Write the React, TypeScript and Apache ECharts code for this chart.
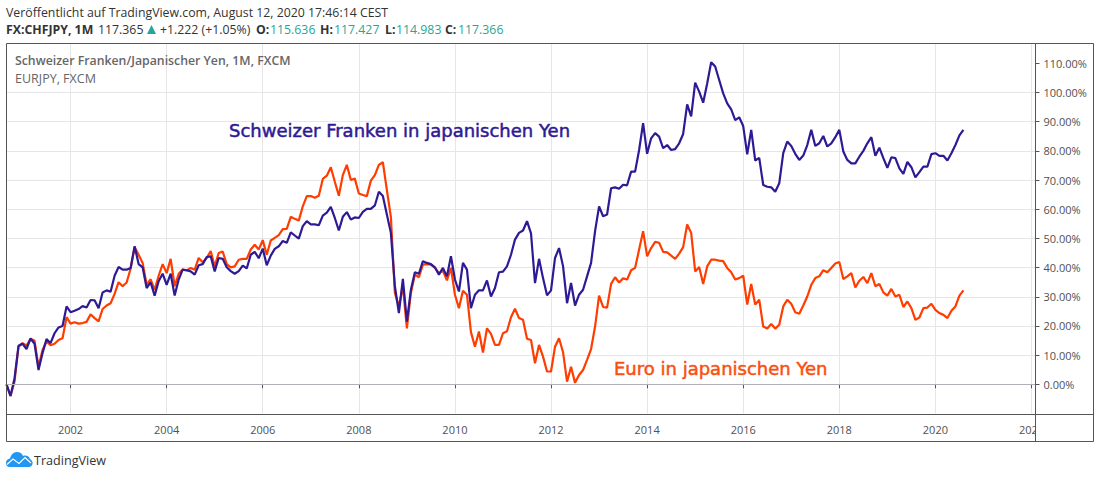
import React, { useEffect, useRef } from "react";
import * as echarts from "echarts";

const months: string[] = [];
for (let k = 0; k < 258; k++) {
  const t = 2000 * 12 + 8 + k;
  months.push(`${Math.floor(t / 12)}-${String((t % 12) + 1).padStart(2, "0")}`);
}
const yTicks = [0, 10, 20, 30, 40, 50, 60, 70, 80, 90, 100, 110];

const chfJpy = [
  0,-4,2,13.2,13.9,12.1,15.7,13.9,4.9,10.7,
  15.5,14.1,17.5,19.5,20,26.7,24.7,25.2,25.8,26.8,
  26.3,28.9,28.8,26.1,31.5,32.2,31.7,37.2,40.2,39.3,
  39.3,39.9,47.3,41.2,40.1,33,34.9,30.4,35.3,37.9,
  34.1,37.9,30.4,35.9,39.3,39.1,38.7,37.6,40.8,41.2,
  43.6,43.9,38.7,43.3,43,40.1,38.8,37.9,38.8,40.7,
  39.7,44.4,45.4,43.2,46.5,40.8,44.1,46.4,47.3,49.1,
  48.5,52.1,51,49.9,54.2,55.9,54.8,54.8,54.5,57.8,
  58.8,60.8,57,52.7,57.4,59,56.5,57.2,57,59.1,
  60.1,60.1,61.3,66,64.5,58.2,51.9,33.6,24.4,36.1,
  21.5,32.4,38.4,37.9,42.2,41.6,41.2,40.1,37.6,39.9,
  37,43.9,35.9,31.8,41.6,39.3,26.1,30.7,32.2,32.2,
  35.6,30.1,33,38.4,38.6,40.4,44.4,49.6,51.9,52.7,
  55.9,51.7,34.7,43,36.4,30.5,32.2,43.3,46.7,40.5,
  27.8,34.7,27,30.7,32.4,37,41.6,52.5,61,57.6,
  58.2,67.2,67.5,67,68.4,68.2,72.9,72.9,80.3,89.5,
  79,84.3,86.1,84.9,80.9,82,80.3,80.6,82.6,85.8,
  95.9,91.8,103.4,100.3,96.5,103.1,110.4,108.9,104.3,99.7,
  96.3,94.2,90.5,91.5,88.5,78.8,87.2,76.7,77.6,68.3,
  67.7,67.5,66,68.9,79.2,83.2,81.7,79,76.9,78.4,
  82,87.2,81.7,82.6,85.1,81.5,82.6,84.7,87.2,79.8,
  76.9,75.7,75.7,78,80,82.6,84.7,78.3,81.1,77.5,
  74.2,77.8,77.5,74,72.1,76.2,74.4,70.9,72.7,74.6,
  74.6,78.9,79.2,78.3,78.3,76.7,79.2,82,85.3,87.2,
];

const eurJpy = [
  0,-4,0.9,12.9,14.1,13.3,15.5,15,6,11.8,
  14.7,13.4,13.9,15.2,15.8,23,20.8,21.3,20.8,21,
  21.4,24,22.7,21.6,25.8,27,27.8,31,35,33.6,
  34.9,39.6,47,44.4,41.6,34.1,36,32.4,37.2,41.2,
  38.1,43,33.6,37.9,39.3,39,39.9,39.3,43.3,41.8,
  43.3,45.7,40.4,45,45.5,41.2,40.1,40.4,42.7,43,
  43,46.2,47.8,46.2,49.4,44.4,49.3,50.2,51.1,53.2,
  53.3,57.4,56.7,56.1,61,64.5,64.5,63.9,64.6,70.4,
  71.5,74.4,69.4,64.6,71.7,75.2,70,70.5,65.4,64.9,
  64.5,69.8,71.7,75.2,76.1,66.6,57.4,31.3,26.7,33.6,
  19.2,31.3,37.6,36.7,41,41.2,41,39.9,38.1,38.9,
  35.6,39.9,30.7,26.1,32.1,30.7,17.9,12.9,18.1,10.9,
  19.2,17.3,13.5,13.5,17.5,18.2,23,25.9,22.7,22.1,
  15.6,15.2,7.2,13.5,9.5,4.4,4.4,12.9,15.8,11,
  0.9,6,0.5,3.2,4.9,8.4,12.1,19.8,30.4,26.5,
  26.3,34.4,36.7,34.9,36.3,35.9,39.1,39.9,46.2,52.5,
  43.9,46.7,48.8,48.5,45.4,45.2,44.1,43,44.8,47,
  54.8,51.9,38.7,40.2,34.4,40.4,42.7,42.7,42.4,42.2,
  39.9,38.4,35.9,36.4,37.2,27.3,34.4,27.3,29,19.8,
  19.1,20.7,19.1,20.4,26.7,29,27.6,24.7,24.2,27,
  30.1,34.1,36.4,37,39.1,38.4,39.9,41.4,41.9,36.1,
  37,38.1,33.2,35.5,36.8,34.7,38.1,33.6,34.4,31.5,
  30.4,32.7,30.1,30.7,26.5,28.4,26.1,22.1,22.9,26.1,
  26.3,27.6,25.5,24.4,23.8,22.7,25.2,26.7,30.4,32.2,
];

const BLUE = "#2e1a94";
const ORANGE = "#ff3d00";
const FRAME = "#555555";
const GRID = "#e6e6e9";
const UI = "'Open Sans', sans-serif";
const TEAL = "#26a69a";

const cloud =
  "M6 463 C6 460 8 459 10 458.5 C11 455 13 452 17 452 C20 452 22 453.5 23 456 C25 455 29 455.5 30 459 C32 460 33 462 32.5 464 C32 466 30.5 467 29 467 L9.5 467 C7.5 467 6 465.5 6 463 Z";
echarts.graphic.registerShape("tvCloud", echarts.graphic.extendPath(cloud, {}));

const txt = (x: number, y: number, text: string, fill: string, size = 12.3, weight: any = "normal", font = UI, extra: any = {}) => ({
  type: "text",
  z: 120,
  x,
  y,
  style: { text, fill, font: `${weight} ${size}px ${font}`, verticalAlign: "middle", align: "left", ...extra },
});
const frameLine = (x1: number, y1: number, x2: number, y2: number) => ({
  type: "line",
  z: 110,
  shape: { x1, y1, x2, y2 },
  style: { stroke: FRAME, lineWidth: 1 },
});

export default function App() {
  const ref = useRef<HTMLDivElement>(null);
  useEffect(() => {
    const chart = echarts.init(ref.current!, undefined, { renderer: "svg", width: 1100, height: 478 });
    const isYearTick = (i: number) => (i - 16) % 24 === 0 && i >= 16;
    chart.setOption({
      animation: false,
      backgroundColor: "#ffffff",
      grid: { left: 6.5, right: 64.5, top: 42.9, height: 370.6, containLabel: false },
      xAxis: {
        type: "category",
        data: months,
        boundaryGap: false,
        offset: 1,
        axisLine: { show: false },
        axisTick: { show: true, interval: (i: number) => isYearTick(i), length: 4, lineStyle: { color: FRAME } },
        axisLabel: {
          interval: (i: number) => isYearTick(i),
          formatter: (v: string) => v.slice(0, 4),
          color: "#505050",
          fontSize: 11,
          fontWeight: 500,
          fontFamily: UI,
          margin: 9,
        },
        splitLine: { show: true, interval: (i: number) => isYearTick(i), lineStyle: { color: GRID, width: 1 } },
      },
      yAxis: {
        type: "value",
        position: "right",
        min: -10,
        max: 117,
        interval: 10,
        axisLine: { show: false },
        axisTick: { show: true, length: 4, customValues: yTicks, lineStyle: { color: FRAME } },
        axisLabel: {
          customValues: yTicks,
          formatter: (v: number) => `${v.toFixed(2)}%`,
          color: "#505050",
          fontSize: 11,
          fontWeight: 500,
          fontFamily: UI,
          margin: 8,
          padding: [0, 0, 2, 0],
        },
        splitLine: { show: true, showMinLine: false, showMaxLine: false, lineStyle: { color: GRID, width: 1 } },
      },
      series: [
        {
          name: "EURJPY",
          type: "line",
          data: eurJpy,
          showSymbol: false,
          lineStyle: { color: ORANGE, width: 2.2 },
          itemStyle: { color: ORANGE },
          markLine: {
            silent: true,
            symbol: "none",
            label: { show: false },
            lineStyle: { color: "#b0b0b8", width: 1, type: "solid" },
            data: [{ yAxis: 0 }],
          },
        },
        {
          name: "CHFJPY",
          type: "line",
          data: chfJpy,
          showSymbol: false,
          lineStyle: { color: BLUE, width: 2.2 },
          itemStyle: { color: BLUE },
        },
      ],
      graphic: [
        { type: "rect", z: 100, shape: { x: 1036, y: 416, width: 57, height: 25 }, style: { fill: "#ffffff" } },
        { type: "rect", z: 100, shape: { x: 0, y: 36, width: 1100, height: 7.5 }, style: { fill: "#ffffff" } },
        frameLine(6.5, 43.5, 1093.5, 43.5),
        frameLine(6.5, 43.5, 6.5, 441.5),
        frameLine(6.5, 441.5, 1093.5, 441.5),
        frameLine(1093.5, 43.5, 1093.5, 441.5),
        frameLine(1035.5, 43.5, 1035.5, 441.5),
        frameLine(6.5, 414.5, 1093.5, 414.5),
        txt(6, 12, "Veröffentlicht auf TradingView.com, August 12, 2020 17:46:14 CEST", "#333333"),
        txt(6, 29.5, "FX:CHFJPY, 1M", "#333333", 12.3, "bold"),
        txt(98, 29.5, "117.365", "#333333"),
        { type: "polygon", z: 120, shape: { points: [[147, 34], [151.5, 25], [156, 34]] }, style: { fill: TEAL } },
        txt(160, 29.5, "+1.222 (+1.05%)", "#333333"),
        txt(256, 29.5, "O:", "#333333", 12.3, "bold"),
        txt(270, 29.5, "115.636", TEAL),
        txt(320, 29.5, "H:", "#333333", 12.3, "bold"),
        txt(334, 29.5, "117.427", TEAL),
        txt(385, 29.5, "L:", "#333333", 12.3, "bold"),
        txt(396, 29.5, "114.983", TEAL),
        txt(445, 29.5, "C:", "#333333", 12.3, "bold"),
        txt(458, 29.5, "117.366", TEAL),
        txt(15, 60.5, "Schweizer Franken/Japanischer Yen, 1M, FXCM", "#666666", 12.3, 600),
        txt(15, 78, "EURJPY, FXCM", "#666666", 12.5),
        txt(229, 130, "Schweizer Franken in japanischen Yen", BLUE, 18, "normal", "'DejaVu Sans', sans-serif", { stroke: BLUE, lineWidth: 0.5 }),
        txt(614, 368, "Euro in japanischen Yen", "#f9500f", 18, "normal", "'DejaVu Sans', sans-serif", { stroke: "#f9500f", lineWidth: 0.5 }),
        { type: "tvCloud", z: 120, x: 0, y: 0, style: { fill: "#2196f3" } },
        {
          type: "polyline",
          z: 121,
          shape: { points: [[7, 464.5], [13, 459], [19, 463.5], [25, 457.5], [31, 463]] },
          style: { stroke: "#ffffff", fill: "none", lineWidth: 1.2 },
        },
        txt(34, 460, "TradingView", "#333333", 12.6),
      ],
    });
    return () => chart.dispose();
  }, []);
  return (
    <div
      ref={ref}
      style={{ position: "fixed", left: 0, top: 0, width: 1100, height: 478, background: "#ffffff" }}
    />
  );
}
